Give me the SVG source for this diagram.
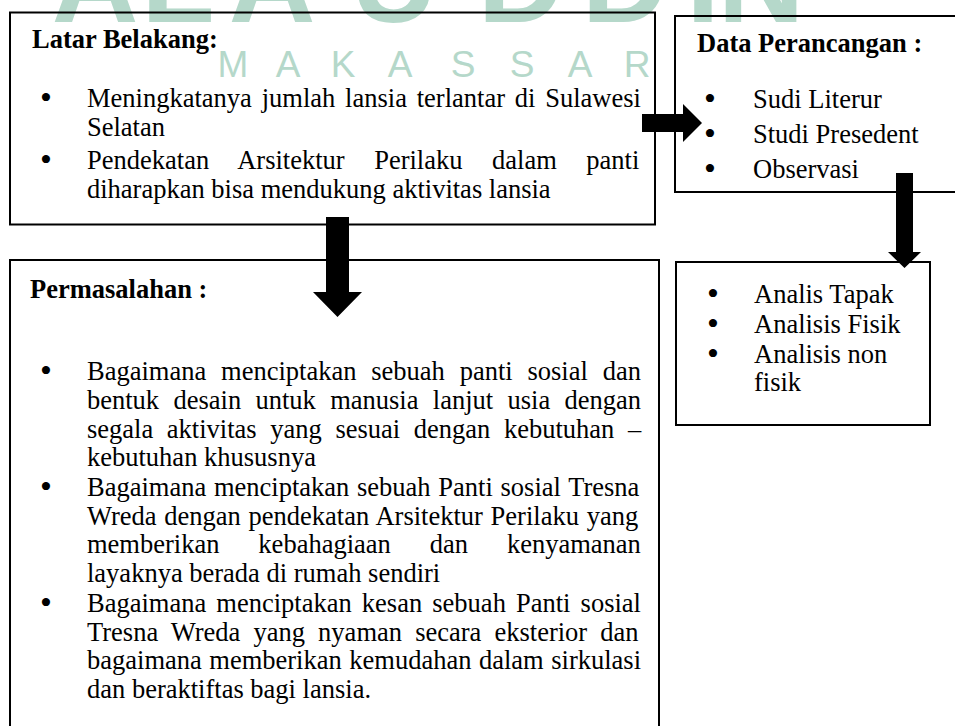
<svg xmlns="http://www.w3.org/2000/svg" width="955" height="726" viewBox="0 0 955 726">
<style>
.wm{fill:#b5d8ca;font-family:"Liberation Sans",Arial,sans-serif}
.box{fill:none;stroke:#000;stroke-width:2}
.t{font-family:"Liberation Serif","Times New Roman",serif;font-size:26.5px;fill:#000}
.h{font-weight:bold}
.b{text-anchor:middle;font-size:34px}
.arrow{fill:#000;stroke:none}
</style>
<rect width="955" height="726" fill="#fff"/>
<g id="watermark">
<text class="wm" y="22" font-size="120" font-weight="bold" text-anchor="middle"><tspan x="95">A</tspan><tspan x="178">L</tspan><tspan x="272">A</tspan><tspan x="394">U</tspan><tspan x="521">D</tspan><tspan x="625">D</tspan><tspan x="703">I</tspan><tspan x="761">N</tspan></text>
<text class="wm" y="77" font-size="37" text-anchor="middle"><tspan x="233">M</tspan><tspan x="288">A</tspan><tspan x="343">K</tspan><tspan x="400">A</tspan><tspan x="463">S</tspan><tspan x="522">S</tspan><tspan x="580">A</tspan><tspan x="637">R</tspan></text>
</g>
<g id="latar-belakang">
<rect class="box" x="10" y="12.5" width="645" height="212"/>
<text class="t h" x="32" y="48">Latar Belakang:</text>
<text class="t b" x="46" y="109">•</text>
<text class="t" x="87" y="107" word-spacing="3.2">Meningkatanya jumlah lansia terlantar di Sulawesi</text>
<text class="t" x="87" y="135.5">Selatan</text>
<text class="t b" x="46" y="171">•</text>
<text class="t" x="87" y="169" word-spacing="22.9">Pendekatan Arsitektur Perilaku dalam panti</text>
<text class="t" x="87" y="197.5">diharapkan bisa mendukung aktivitas lansia</text>
</g>
<g id="data-perancangan">
<rect class="box" x="675" y="16" width="400" height="176"/>
<text class="t h" x="697" y="52">Data Perancangan :</text>
<text class="t b" x="710" y="110">•</text>
<text class="t" x="753" y="108">Sudi Literur</text>
<text class="t b" x="710" y="145">•</text>
<text class="t" x="753" y="143">Studi Presedent</text>
<text class="t b" x="710" y="180">•</text>
<text class="t" x="753" y="178">Observasi</text>
</g>
<g id="permasalahan">
<rect class="box" x="10" y="260" width="649" height="480"/>
<text class="t h" x="30" y="298">Permasalahan :</text>
<text class="t b" x="46" y="382">•</text>
<text class="t" x="87" y="380" word-spacing="8.2">Bagaimana menciptakan sebuah panti sosial dan</text>
<text class="t" x="87" y="409" word-spacing="7.7">bentuk desain untuk manusia lanjut usia dengan</text>
<text class="t" x="87" y="437.5" word-spacing="7.0">segala aktivitas yang sesuai dengan kebutuhan –</text>
<text class="t" x="87" y="466">kebutuhan khususnya</text>
<text class="t b" x="46" y="498">•</text>
<text class="t" x="87" y="496" word-spacing="1.1">Bagaimana menciptakan sebuah Panti sosial Tresna</text>
<text class="t" x="87" y="524.5" word-spacing="1.1">Wreda dengan pendekatan Arsitektur Perilaku yang</text>
<text class="t" x="87" y="553" word-spacing="32.3">memberikan kebahagiaan dan kenyamanan</text>
<text class="t" x="87" y="582">layaknya berada di rumah sendiri</text>
<text class="t b" x="46" y="614">•</text>
<text class="t" x="87" y="612" word-spacing="3.5">Bagaimana menciptakan kesan sebuah Panti sosial</text>
<text class="t" x="87" y="640.5" word-spacing="6.5">Tresna Wreda yang nyaman secara eksterior dan</text>
<text class="t" x="87" y="669" word-spacing="0.9">bagaimana memberikan kemudahan dalam sirkulasi</text>
<text class="t" x="87" y="698">dan beraktiftas bagi lansia.</text>
</g>
<g id="analisis">
<rect class="box" x="676" y="262" width="254" height="163"/>
<text class="t b" x="713" y="305">•</text>
<text class="t" x="754" y="303">Analis Tapak</text>
<text class="t b" x="713" y="335">•</text>
<text class="t" x="754" y="333">Analisis Fisik</text>
<text class="t b" x="713" y="365">•</text>
<text class="t" x="754" y="363">Analisis non</text>
<text class="t" x="754" y="391">fisik</text>
</g>
<g id="connectors">
<polygon class="arrow" points="642,114 683,114 683,104 702,123 683,142 683,132 642,132"/>
<polygon class="arrow" points="326,217 349,217 349,292 362,292 337.5,317 313,292 326,292"/>
<polygon class="arrow" points="896,173 913,173 913,252 921,252 904.5,268 888,252 896,252"/>
</g>
</svg>
